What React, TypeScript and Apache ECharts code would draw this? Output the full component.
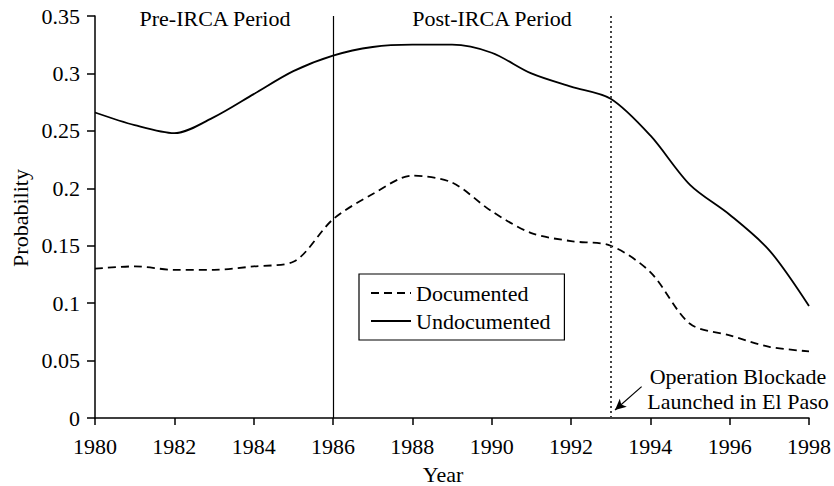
import React, { useEffect, useRef } from "react";
import * as echarts from "echarts";

const years = [1980, 1981, 1982, 1983, 1984, 1985, 1986, 1987, 1988, 1989, 1990, 1991, 1992, 1993, 1994, 1995, 1996, 1997, 1998];
const documented = [0.130, 0.132, 0.129, 0.129, 0.132, 0.136, 0.173, 0.195, 0.211, 0.205, 0.180, 0.161, 0.154, 0.150, 0.127, 0.082, 0.072, 0.062, 0.058];
const undocumented = [0.266, 0.255, 0.248, 0.262, 0.282, 0.302, 0.3155, 0.323, 0.325, 0.325, 0.318, 0.300, 0.2885, 0.278, 0.246, 0.203, 0.177, 0.146, 0.0975];
const periodLines = [1986, 1993];
const arrowFrom = [1993.78, 0.0273];
const arrowTo = [1993.11, 0.007];

const FONT = "Liberation Serif";

export default function App() {
  const ref = useRef<HTMLDivElement>(null);
  useEffect(() => {
    if (!ref.current) return;
    const chart = echarts.init(ref.current, null, { renderer: "svg" });
    const textStyle = { fontFamily: FONT, fontSize: 22, color: "#000" };
    const font = `22px "${FONT}"`;
    chart.setOption({
      animation: false,
      backgroundColor: "#fff",
      grid: { left: 95, right: 25, top: 16, bottom: 68 },
      xAxis: {
        type: "value",
        min: 1980,
        max: 1998,
        interval: 2,
        axisLine: { show: true, lineStyle: { color: "#000", width: 1.5 } },
        axisTick: { show: true, length: 7, lineStyle: { color: "#000", width: 1.5 } },
        axisLabel: { ...textStyle, margin: 17, formatter: (v: number) => String(v) },
        splitLine: { show: false },
      },
      yAxis: {
        type: "value",
        min: 0,
        max: 0.35,
        interval: 0.05,
        axisLine: { show: true, lineStyle: { color: "#000", width: 1.5 } },
        axisTick: { show: true, length: 8, lineStyle: { color: "#000", width: 1.5 } },
        axisLabel: { ...textStyle, margin: 15 },
        splitLine: { show: false },
      },
      legend: {
        orient: "vertical",
        left: 359,
        top: 274,
        padding: [8, 14, 8, 11],
        itemWidth: 40,
        itemHeight: 14,
        itemGap: 6,
        borderColor: "#000",
        borderWidth: 1.2,
        borderRadius: 0,
        itemStyle: { opacity: 0 },
        textStyle: textStyle,
        data: ["Documented", "Undocumented"],
      },
      series: [
        {
          name: "Documented",
          type: "line",
          smooth: 0.3,
          symbol: "none",
          lineStyle: { color: "#000", width: 1.8, type: [8, 5] },
          itemStyle: { color: "#000" },
          data: years.map((y, i) => [y, documented[i]]),
          markLine: {
            silent: true,
            symbol: ["none", "none"],
            label: { show: false },
            data: [
              { xAxis: periodLines[0], lineStyle: { color: "#000", width: 1.2, type: "solid" } },
              { xAxis: periodLines[1], lineStyle: { color: "#444", width: 2, type: [2, 3] } },
              [
                { coord: arrowFrom, symbol: "none", lineStyle: { color: "#000", width: 1.2, type: "solid" } },
                { coord: arrowTo, symbol: "arrow", symbolSize: [8, 11] },
              ],
            ],
          },
        },
        {
          name: "Undocumented",
          type: "line",
          smooth: 0.3,
          symbol: "none",
          lineStyle: { color: "#000", width: 1.8, type: "solid" },
          itemStyle: { color: "#000" },
          data: years.map((y, i) => [y, undocumented[i]]),
        },
      ],
      graphic: [
        { type: "text", x: 215, y: 18, style: { text: "Pre-IRCA Period", align: "center", verticalAlign: "middle", font, fill: "#000" } },
        { type: "text", x: 492, y: 18, style: { text: "Post-IRCA Period", align: "center", verticalAlign: "middle", font, fill: "#000" } },
        { type: "text", x: 738, y: 376, style: { text: "Operation Blockade", align: "center", verticalAlign: "middle", font, fill: "#000" } },
        { type: "text", x: 738, y: 401, style: { text: "Launched in El Paso", align: "center", verticalAlign: "middle", font, fill: "#000" } },
        { type: "text", x: 443, y: 474, style: { text: "Year", align: "center", verticalAlign: "middle", font, fill: "#000" } },
        { type: "text", x: 20, y: 218, rotation: Math.PI / 2, style: { text: "Probability", align: "center", verticalAlign: "middle", font, fill: "#000" } },
      ],
    });
    return () => chart.dispose();
  }, []);
  return <div ref={ref} style={{ width: 834, height: 486, position: "absolute", left: 0, top: 0 }} />;
}
